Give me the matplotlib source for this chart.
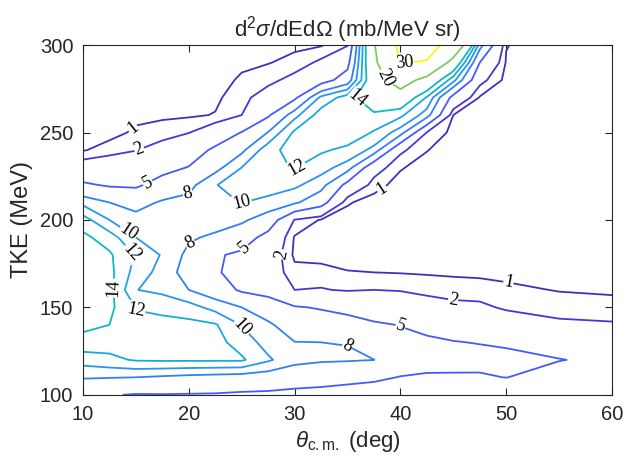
import numpy as np
import matplotlib
matplotlib.use("Agg")
import matplotlib.pyplot as plt
from matplotlib.colors import LinearSegmentedColormap

# ---------------- data ----------------
theta_cm = [10, 12.5, 15, 17.5, 20, 22.5, 25, 27.5, 30, 32.5, 35, 37.5,
            40, 42.5, 45, 47.5, 50, 55, 60]
tke = [100, 110, 120, 130, 140, 150, 160, 170, 180, 190, 200,
       210, 220, 230, 240, 250, 260, 270, 280, 290, 300]

# d2sigma/dEdOmega (mb/MeV sr) for each angle, TKE from 100 to 300 MeV
xs_10_0 = [5.6, 8.2, 10.9, 13.3, 14.5, 15.0, 15.3, 15.3, 15.0, 14.5, 12.9, 9.4, 5.4, 2.9, 0.9, 0.6, 0.4, 0.3, 0.3, 0.3, 0.3]
xs_12_5 = [5.15, 8.1, 11.5, 12.9, 14.0, 14.5, 14.7, 14.6, 14.3, 13.0, 10.0, 8.0, 4.7, 3.1, 1.5, 0.6, 0.5, 0.4, 0.4, 0.4, 0.4]
xs_15_0 = [4.85, 8.0, 12.2, 12.6, 12.5, 11.9, 10.05, 11.2, 11.8, 10.0, 8.8, 7.1, 4.6, 3.2, 1.95, 1.2, 0.7, 0.5, 0.5, 0.5, 0.5]
xs_17_5 = [4.9, 7.7, 12.3, 12.8, 12.7, 11.4, 9.5, 9.2, 9.8, 9.5, 9.3, 8.3, 6.0, 4.2, 2.6, 1.5, 0.8, 0.6, 0.6, 0.6, 0.6]
xs_20_0 = [4.85, 7.4, 12.3, 12.8, 12.6, 10.8, 8.0, 7.0, 7.4, 8.3, 9.0, 8.7, 7.3, 5.1, 3.6, 1.95, 0.85, 0.6, 0.5, 0.5, 0.5]
xs_22_5 = [4.8, 7.2, 12.3, 12.7, 12.2, 9.3, 6.5, 5.3, 5.3, 7.6, 9.0, 9.6, 9.9, 7.2, 5.5, 3.2, 1.05, 0.8, 0.6, 0.5, 0.5]
xs_25_0 = [4.6, 7.0, 12.3, 11.1, 9.9, 8.0, 4.6, 4.0, 4.5, 6.4, 8.4, 10.05, 11.0, 10.0, 7.5, 5.1, 2.0, 1.57, 1.15, 0.8, 0.6]
xs_27_5 = [4.5, 6.8, 10.3, 9.2, 8.4, 6.5, 4.0, 3.0, 3.2, 4.0, 6.8, 9.4, 11.0, 11.6, 11.2, 8.1, 4.6, 2.8, 1.6, 0.95, 0.7]
xs_30_0 = [4.3, 6.3, 8.7, 8.05, 6.6, 5.2, 2.0, 1.3, 0.8, 0.9, 1.9, 8.4, 10.4, 12.1, 13.0, 12.4, 9.3, 4.4, 2.5, 1.3, 0.8]
xs_32_5 = [4.2, 6.0, 8.3, 8.0, 6.3, 4.8, 2.1, 1.3, 0.7, 0.6, 0.9, 6.2, 8.9, 10.8, 12.3, 13.2, 13.0, 10.5, 3.6, 2.3, 0.9]
xs_35_0 = [4.0, 5.7, 8.2, 7.95, 5.8, 4.4, 1.85, 1.05, 0.6, 0.5, 0.6, 1.1, 4.1, 9.1, 11.5, 13.4, 13.8, 13.0, 6.5, 4.0, 1.9]
xs_37_5 = [3.6, 5.5, 8.02, 6.5, 5.4, 3.3, 2.0, 1.0, 0.5, 0.4, 0.4, 0.6, 1.4, 2.8, 9.4, 11.8, 13.6, 16.0, 17.0, 18.5, 19.5]
xs_40_0 = [3.3, 4.9, 6.6, 5.9, 4.9, 3.3, 1.9, 0.95, 0.5, 0.35, 0.3, 0.35, 0.6, 1.1, 2.3, 9.0, 12.5, 16.7, 23.5, 30.3, 32.0]
xs_42_5 = [3.0, 4.6, 6.2, 5.5, 4.2, 2.8, 1.6, 0.9, 0.4, 0.3, 0.25, 0.25, 0.3, 0.55, 1.05, 1.9, 9.0, 11.8, 17.5, 29.5, 33.0]
xs_45_0 = [2.9, 4.6, 6.1, 5.1, 3.9, 2.4, 1.45, 0.85, 0.4, 0.25, 0.2, 0.2, 0.2, 0.25, 0.4, 0.7, 1.0, 4.0, 10.7, 17.2, 27.0]
xs_47_5 = [2.8, 4.7, 5.8, 4.9, 3.5, 2.3, 1.4, 0.8, 0.4, 0.25, 0.2, 0.2, 0.2, 0.2, 0.25, 0.3, 0.5, 0.9, 2.5, 5.0, 9.0]
xs_50_0 = [2.6, 5.05, 5.6, 4.7, 3.0, 1.8, 1.2, 0.75, 0.45, 0.3, 0.25, 0.2, 0.2, 0.2, 0.2, 0.25, 0.3, 0.4, 0.7, 0.9, 1.05]
xs_55_0 = [2.5, 3.8, 5.1, 3.7, 2.3, 1.45, 0.95, 0.6, 0.4, 0.3, 0.25, 0.2, 0.2, 0.2, 0.2, 0.2, 0.2, 0.2, 0.2, 0.2, 0.2]
xs_60_0 = [2.3, 3.4, 4.4, 3.3, 2.15, 1.35, 0.85, 0.55, 0.35, 0.3, 0.25, 0.2, 0.2, 0.2, 0.2, 0.2, 0.2, 0.2, 0.2, 0.2, 0.2]

contour_levels = [1, 2, 5, 8, 10, 12, 14, 20, 30]

# contour labels: (level, approximate spot)
label_spots = [(1, 14.9, 251), (2, 15.4, 239), (5, 16.3, 219), (8, 19.9, 215),
               (10, 25.1, 209), (12, 30.2, 230), (14, 35.6, 267), (30, 40.4, 290),
               (20, 38.5, 281), (1, 38.1, 219), (10, 14.7, 197), (12, 14.7, 182),
               (14, 12.7, 161), (12, 14.9, 146), (8, 20.1, 187), (5, 25.1, 185),
               (2, 28.3, 181), (10, 25.1, 139), (8, 35.0, 128), (5, 40.0, 139),
               (2, 45.0, 155), (1, 50.2, 164)]

# ---------------- style ----------------
parula_pts = [(0.2422, 0.1504, 0.6603), (0.2706, 0.2147, 0.8364), (0.2813, 0.3006, 0.9414),
              (0.2699, 0.3892, 0.9906), (0.1963, 0.4847, 0.9892), (0.1687, 0.5703, 0.9359),
              (0.1248, 0.6459, 0.8883), (0.0297, 0.7082, 0.8163), (0.0964, 0.7500, 0.7120),
              (0.2161, 0.7843, 0.5923), (0.3909, 0.8029, 0.4354), (0.6174, 0.7876, 0.2612),
              (0.8203, 0.7498, 0.1535), (0.9728, 0.7298, 0.2394), (0.9892, 0.8136, 0.1885),
              (0.9597, 0.9135, 0.1423), (0.9769, 0.9839, 0.0805)]
parula = LinearSegmentedColormap.from_list("parula", parula_pts)

plt.rcParams["font.family"] = ["Liberation Sans", "DejaVu Sans"]
plt.rcParams["mathtext.fontset"] = "custom"
plt.rcParams["mathtext.rm"] = "Liberation Sans"
plt.rcParams["mathtext.it"] = "Liberation Sans:italic"
plt.rcParams["mathtext.bf"] = "Liberation Sans:bold"
txt_col = "#262626"

fig = plt.figure(figsize=(6.29, 4.65), dpi=100)
ax = fig.add_axes([0.132, 0.151, 0.841, 0.752])

Z = np.column_stack([xs_10_0, xs_12_5, xs_15_0, xs_17_5, xs_20_0, xs_22_5, xs_25_0,
                     xs_27_5, xs_30_0, xs_32_5, xs_35_0, xs_37_5, xs_40_0, xs_42_5,
                     xs_45_0, xs_47_5, xs_50_0, xs_55_0, xs_60_0])
X, Y = np.meshgrid(theta_cm, tke)
cs = ax.contour(X, Y, Z, levels=contour_levels, cmap=parula, vmin=0, vmax=30.5,
                linewidths=1.3)

ax.set_xlim(10, 60)
ax.set_ylim(100, 300)
ax.set_xticks([10, 20, 30, 40, 50, 60])
ax.set_yticks([100, 150, 200, 250, 300])
ax.tick_params(direction="in", top=True, right=True, length=5, width=0.8,
               labelsize=14.5, colors=txt_col, pad=7)
for s in ax.spines.values():
    s.set_color(txt_col)
    s.set_linewidth(0.8)

ax.set_title(r"d$^{2}$$\sigma$/dEd$\Omega$ (mb/MeV sr)", fontsize=16, color=txt_col, pad=6)
ax.set_xlabel(r"$\theta_{\mathrm{c.m.}}$ (deg)", fontsize=16, color=txt_col, labelpad=4)
ax.set_ylabel("TKE (MeV)", fontsize=17, color=txt_col, labelpad=5)


def put_label(level, x, y):
    i = list(cs.levels).index(level)
    path = cs.get_paths()[i]
    p = ax.transData.transform((x, y))
    best = None
    for poly in path.to_polygons(closed_only=False):
        if len(poly) < 2:
            continue
        d = ax.transData.transform(poly)
        a, b = d[:-1], d[1:]
        ab = b - a
        l2 = (ab ** 2).sum(1)
        l2[l2 == 0] = 1e-12
        t = np.clip(((p - a) * ab).sum(1) / l2, 0, 1)
        proj = a + ab * t[:, None]
        dist = np.hypot(*(proj - p).T)
        k = dist.argmin()
        if best is None or dist[k] < best[0]:
            best = (dist[k], proj[k], ab[k])
    if best is None:
        return
    _, q, v = best
    ang = np.degrees(np.arctan2(v[1], v[0]))
    if ang > 90:
        ang -= 180
    if ang < -90:
        ang += 180
    xd, yd = ax.transData.inverted().transform(q)
    ax.text(xd, yd, f"{level:g}", rotation=ang, rotation_mode="anchor",
            ha="center", va="center", fontsize=13, family="Liberation Serif",
            color="black", zorder=5,
            bbox=dict(facecolor="white", edgecolor="none", pad=0.4))


for lev, lx, ly in label_spots:
    put_label(lev, lx, ly)

fig.savefig("out.png", dpi=100)
